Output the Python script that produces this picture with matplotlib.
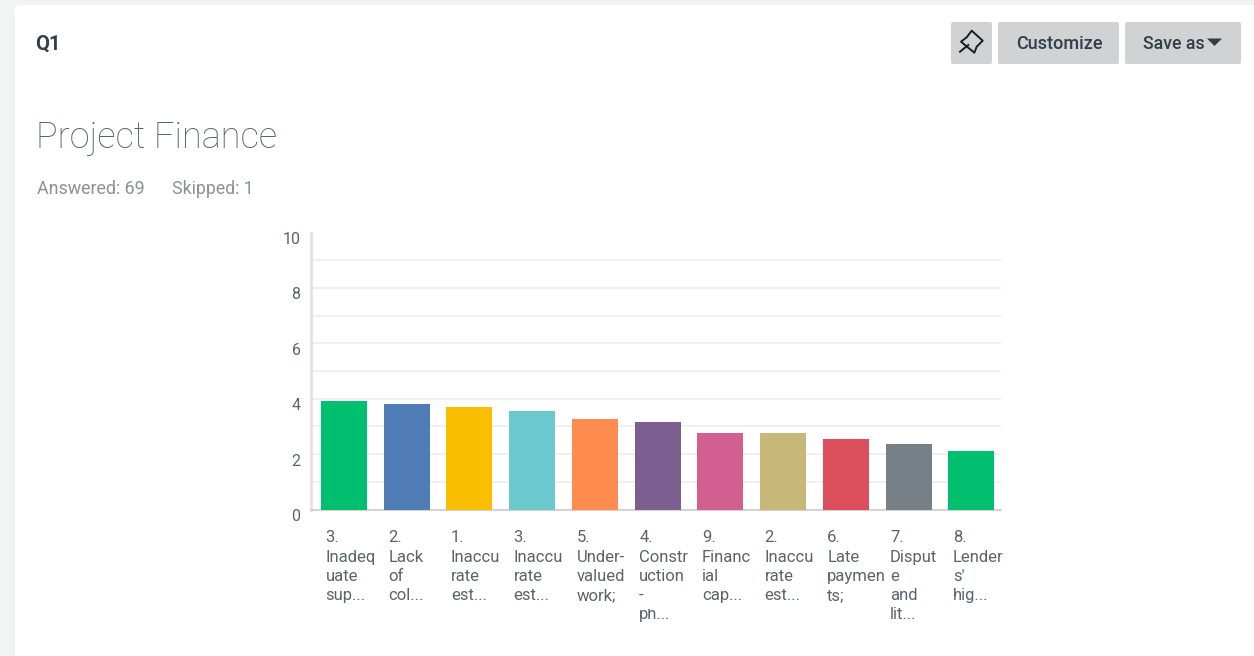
import matplotlib
matplotlib.use('Agg')
import matplotlib.pyplot as plt
from matplotlib.patches import FancyBboxPatch, Polygon, Rectangle
from matplotlib.transforms import ScaledTranslation

plt.rcParams['font.family'] = ['Roboto', 'DejaVu Sans']

labels = ['3.\nInadeq\nuate\nsup...', '2.\nLack\nof\ncol...', '1.\nInaccu\nrate\nest...',
          '3.\nInaccu\nrate\nest...', '5.\nUnder-\nvalued\nwork;', '4.\nConstr\nuction\n-\nph...',
          '9.\nFinanc\nial\ncap...', '2.\nInaccu\nrate\nest...', '6.\nLate\npaymen\nts;',
          '7.\nDisput\ne\nand\nlit...', "8.\nLender\ns'\nhig..."]
values = [3.92, 3.82, 3.71, 3.57, 3.27, 3.16, 2.76, 2.76, 2.55, 2.37, 2.10]
colors = ['#00bf6f', '#507cb6', '#f9be00', '#6bc8cd', '#ff8b4f', '#7d5e90',
          '#d25f90', '#c7b879', '#dc4e5b', '#768086', '#00bf6f']
major_ticks = [0, 2, 4, 6, 8, 10]
minor_ticks = [1, 3, 5, 7, 9]

W, H = 1254, 656
fig = plt.figure(figsize=(W / 100, H / 100), dpi=100, facecolor='#f2f4f4')

# page furniture, drawn in pixel coordinates
bg = fig.add_axes([0, 0, 1, 1])
bg.set_xlim(0, W)
bg.set_ylim(H, 0)
bg.axis('off')
bg.add_patch(FancyBboxPatch((15, 5), W + 40, H + 40, boxstyle='round,pad=0,rounding_size=5',
                            fc='white', ec='none'))

bg.text(35.5, 44.5, 'Q1', fontsize=14.5, fontweight='bold', color='#333e48', va='center')
bg.text(36, 138, 'Project Finance', fontsize=26, fontweight='light', color='#56636b', va='center')
bg.text(37, 189, 'Answered: 69', fontsize=12.9, color='#8a9299', va='center')
bg.text(172, 189, 'Skipped: 1', fontsize=12.7, color='#8a9299', va='center')

for x0, x1 in [(951, 992), (998, 1119), (1125, 1241)]:
    bg.add_patch(FancyBboxPatch((x0, 22), x1 - x0, 42, boxstyle='round,pad=0,rounding_size=2',
                                fc='#d0d2d3', ec='none'))
bg.text(1059, 44, 'Customize', fontsize=13, fontweight='medium', color='#333e48',
        ha='center', va='center')
bg.text(1143, 44, 'Save as', fontsize=12.8, fontweight='medium', color='#333e48', va='center')
bg.add_patch(Polygon([(1207, 38.5), (1222, 38.5), (1214.5, 46)], fc='#333e48', ec='none'))

# pin icon
bg.add_patch(Polygon([(971.7, 30.7), (982.7, 40.7), (976.7, 46.7), (974.3, 52.7), (961, 41.7), (966.7, 37.3)],
                     fc='none', ec='#1c1c1c', lw=1.4, joinstyle='round'))
bg.plot([960, 968.3], [51.7, 45], color='#1c1c1c', lw=1.4)

# chart
ax = fig.add_axes([311 / W, 1 - 509.5 / H, 690 / W, 277 / H])
ax.patch.set_alpha(0)
x = list(range(len(values)))
ax.bar(x, values, width=46 / 62.7, color=colors, zorder=3)
ax.set_xlim(-0.526, len(values) - 0.526)
ax.set_ylim(0, 10)

ax.set_yticks(major_ticks)
ax.set_yticks(minor_ticks, minor=True)
ax.set_xticks(x)
ax.set_xticklabels(labels, fontsize=12, color='#59646c', ha='left', va='top', linespacing=1.35)
ax.set_yticklabels([str(t) for t in major_ticks], fontsize=11.5, color='#59646c')
ax.grid(True, axis='y', which='both', color='#f0f0f0', lw=1.5, zorder=0)
ax.yaxis.get_gridlines()[-1].set_visible(False)
ax.set_axisbelow(True)
ax.tick_params(axis='both', which='both', length=0)
ax.tick_params(axis='y', pad=7.5)
ax.tick_params(axis='x', pad=15)

for s in ['top', 'right']:
    ax.spines[s].set_visible(False)
ax.spines['left'].set_color('#e2e2e2')
ax.spines['left'].set_linewidth(2)
ax.spines['bottom'].set_color('#d4d4d4')
ax.spines['bottom'].set_linewidth(1.5)

px = fig.dpi_scale_trans
for lab in ax.get_xticklabels():
    lab.set_transform(lab.get_transform() + ScaledTranslation(-18.5 / 100, 0, px))
for lab in ax.get_yticklabels():
    lab.set_transform(lab.get_transform() + ScaledTranslation(0, -5.5 / 100, px))

# the fifth line of the 4. label is cut off at the top in the source
fig.add_artist(Rectangle((635 / W, 1 - 609 / H), 50 / W, 6 / H, transform=fig.transFigure,
                         fc='white', ec='none', zorder=10))

fig.savefig('out.png', dpi=100, facecolor=fig.get_facecolor())
